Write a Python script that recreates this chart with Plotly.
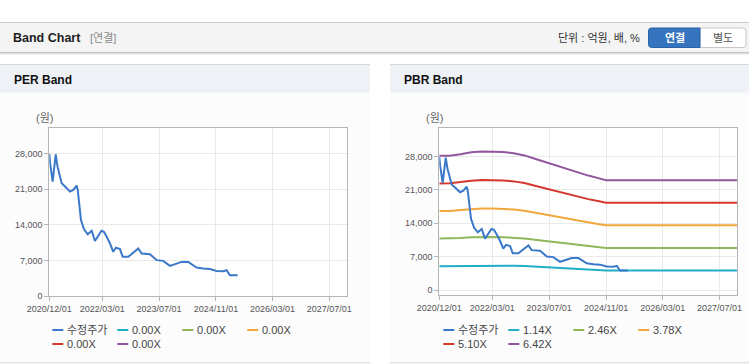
import plotly.graph_objects as go

W, H = 749, 364

# ---------------- data ----------------
price_name = "수정주가"
price_dates = ["2020-12-01", "2020-12-08", "2020-12-30", "2021-01-25", "2021-02-09", "2021-03-17",
               "2021-04-15", "2021-05-28", "2021-06-25", "2021-07-24", "2021-08-02", "2021-08-15",
               "2021-08-30", "2021-09-25", "2021-10-27", "2021-11-30", "2021-12-28", "2022-02-22",
               "2022-03-15", "2022-04-08", "2022-05-06", "2022-06-03", "2022-06-26", "2022-07-31",
               "2022-08-23", "2022-10-10", "2023-01-04", "2023-02-02", "2023-04-14", "2023-06-11",
               "2023-08-06", "2023-10-03", "2023-11-29", "2024-01-11", "2024-03-08", "2024-05-19",
               "2024-07-15", "2024-09-10", "2024-11-07", "2025-01-02", "2025-01-31", "2025-03-01",
               "2025-05-06"]
price_values = [27900, 26100, 22480, 27800, 25500, 22160,
                21500, 20510, 20840, 21690, 20840, 18220,
                14930, 13100, 12110, 12820, 10790, 12820,
                12620, 11630, 10330, 8680, 9470, 9210,
                7690, 7690, 9350, 8360, 8220, 7040,
                6900, 5920, 6390, 6700, 6700, 5600,
                5400, 5320, 4930, 4870, 5070, 4080,
                4080]

per_band_names = ["0.00X", "0.00X", "0.00X", "0.00X", "0.00X"]

pbr_band_names = ["1.14X", "2.46X", "3.78X", "5.10X", "6.42X"]
band_dates = ["2020-12-01", "2021-03-01", "2021-06-01", "2021-09-01", "2021-12-01", "2022-03-01",
              "2022-06-01", "2022-09-01", "2022-12-01", "2023-03-01", "2023-06-01", "2023-09-01",
              "2023-12-01", "2024-03-01", "2024-06-01", "2024-09-01", "2024-11-01", "2027-12-01"]
band_114 = [4999, 5005, 5062, 5130, 5159, 5159, 5141, 5096, 5016, 4891, 4760, 4628,
            4503, 4378, 4264, 4161, 4093, 4093]
band_246 = [10787, 10799, 10922, 11070, 11132, 11132, 11095, 10996, 10824, 10553, 10271, 9988,
            9717, 9446, 9200, 8979, 8831, 8831]
band_378 = [16575, 16594, 16783, 17010, 17105, 17105, 17048, 16897, 16632, 16216, 15782, 15347,
            14931, 14515, 14137, 13797, 13570, 13570]
band_510 = [22364, 22389, 22644, 22950, 23078, 23078, 23001, 22797, 22440, 21879, 21293, 20706,
            20145, 19584, 19074, 18615, 18309, 18309]
band_642 = [28152, 28184, 28505, 28890, 29051, 29051, 28954, 28697, 28248, 27542, 26804, 26065,
            25359, 24653, 24011, 23433, 23048, 23048]
pbr_bands = [band_114, band_246, band_378, band_510, band_642]

x_tick_dates = ["2020-12-01", "2022-03-01", "2023-07-01", "2024-11-01", "2026-03-01", "2027-07-01"]
y_ticks = [0, 7000, 14000, 21000, 28000]

# ---------------- style ----------------
price_color = "#3a78c9"
band_colors = ["#22aec6", "#8fb75a", "#f0a83c", "#d5372c", "#91569d"]
FONT = "Liberation Sans, Arial, Noto Sans CJK KR, sans-serif"
KFONT = "Liberation Sans, Noto Sans CJK KR, sans-serif"

def X(px):
    return px / W

def Y(py):
    return 1 - py / H

# plot areas in pixels
L_left, L_right, L_top, L_bot = 49.3, 347.0, 128.0, 296.0
R_left, R_right, R_top, R_bot = 439.3, 737.3, 128.0, 295.0

fig = go.Figure()

fig.add_trace(go.Scatter(x=price_dates, y=price_values, mode="lines", name=price_name,
                         line=dict(color=price_color, width=2), xaxis="x", yaxis="y",
                         showlegend=False, hoverinfo="skip"))
for name, vals, col in zip(pbr_band_names, pbr_bands, band_colors):
    fig.add_trace(go.Scatter(x=band_dates, y=vals, mode="lines", name=name,
                             line=dict(color=col, width=2), xaxis="x2", yaxis="y2",
                             showlegend=False, hoverinfo="skip"))
fig.add_trace(go.Scatter(x=price_dates, y=price_values, mode="lines", name=price_name,
                         line=dict(color=price_color, width=2), xaxis="x2", yaxis="y2",
                         showlegend=False, hoverinfo="skip"))

axis_common = dict(showline=True, mirror=True, linecolor="#b5b5b5", linewidth=1,
                   showgrid=True, gridcolor="#e9e9e9", gridwidth=1, zeroline=False,
                   ticks="outside", ticklen=4, tickcolor="#b5b5b5", automargin=False,
                   tickfont=dict(family=FONT, size=9, color="#555555"), fixedrange=True)

xr = ["2020-12-01", "2027-12-01"]
fig.update_layout(
    width=W, height=H, margin=dict(l=0, r=0, t=0, b=0, pad=0, autoexpand=False),
    paper_bgcolor="white", plot_bgcolor="white", showlegend=False,
    xaxis=dict(domain=[X(L_left), X(L_right)], anchor="y", type="date", range=xr,
               tickvals=x_tick_dates, tickformat="%Y/%m/%d", **axis_common),
    yaxis=dict(domain=[Y(L_bot), Y(L_top)], anchor="x", range=[0, 33000],
               tickvals=y_ticks, tickformat=",", **axis_common),
    xaxis2=dict(domain=[X(R_left), X(R_right)], anchor="y2", type="date", range=xr,
                tickvals=x_tick_dates, tickformat="%Y/%m/%d", **axis_common),
    yaxis2=dict(domain=[Y(R_bot), Y(R_top)], anchor="x2", range=[-1050, 34000],
                tickvals=y_ticks, tickformat=",", **axis_common),
)

shapes = []
ann = []

def rect(x0, y0, x1, y1, fill, line=None, lw=0, layer="below"):
    shapes.append(dict(type="rect", xref="paper", yref="paper",
                       x0=X(x0), x1=X(x1), y0=Y(y1), y1=Y(y0), fillcolor=fill,
                       line=dict(color=line or fill, width=lw), layer=layer))

def hline(x0, x1, y, color, width=1, layer="below"):
    shapes.append(dict(type="line", xref="paper", yref="paper",
                       x0=X(x0), x1=X(x1), y0=Y(y), y1=Y(y),
                       line=dict(color=color, width=width), layer=layer))

def text(x, y, s, size=11, color="#333", xanchor="left", family=KFONT, bold=False):
    ann.append(dict(xref="paper", yref="paper", x=X(x), y=Y(y), text=s, showarrow=False,
                    xanchor=xanchor, yanchor="middle",
                    font=dict(family=family, size=size, color=color,
                              weight="bold" if bold else "normal")))

# top header bar
rect(0, 22.5, W, 52.5, "#f4f4f4")
hline(0, W, 22.5, "#c9c9c9")
hline(0, W, 52.5, "#c4c4c4")
hline(0, W, 53.5, "#e2e2e2")
hline(0, W, 54.5, "#f0f0f0")
text(10.5, 38, "Band Chart", size=12.5, color="#1e1e1e", family=FONT, bold=True)
text(87.5, 38.5, "[연결]", size=11, color="#8a8a8a")
text(642, 38.5, "단위 : 억원, 배, %", size=11, color="#333333", xanchor="right")

def rounded_path(x0, y0, x1, y1, rl, rr):
    def p(x, y):
        return f"{X(x):.5f},{Y(y):.5f}"
    d = f"M {p(x0 + rl, y0)} L {p(x1 - rr, y0)} "
    d += f"Q {p(x1, y0)} {p(x1, y0 + rr)} " if rr else f"L {p(x1, y0)} "
    d += f"L {p(x1, y1 - rr)} "
    d += f"Q {p(x1, y1)} {p(x1 - rr, y1)} " if rr else f"L {p(x1, y1)} "
    d += f"L {p(x0 + rl, y1)} "
    d += f"Q {p(x0, y1)} {p(x0, y1 - rl)} " if rl else f"L {p(x0, y1)} "
    d += f"L {p(x0, y0 + rl)} "
    d += f"Q {p(x0, y0)} {p(x0 + rl, y0)} Z" if rl else f"L {p(x0, y0)} Z"
    return d

shapes.append(dict(type="path", xref="paper", yref="paper",
                   path=rounded_path(700, 28, 746, 47.5, 0, 3),
                   fillcolor="#ffffff", line=dict(color="#c6c6c6", width=1), layer="above"))
shapes.append(dict(type="path", xref="paper", yref="paper",
                   path=rounded_path(648.5, 28, 700, 47.5, 3, 0),
                   fillcolor="#3574bf", line=dict(color="#2b62a6", width=1), layer="above"))
text(674.5, 38, "연결", size=11, color="#ffffff", xanchor="center", bold=True)
text(723, 38, "별도", size=11, color="#555555", xanchor="center")

for (px0, px1, title, ylab_x, pl, pr, pt, pb) in [
        (0, 370, "PER Band", 44, L_left, L_right, L_top, L_bot),
        (390, W, "PBR Band", 434.5, R_left, R_right, R_top, R_bot)]:
    rect(px0, 92.5, px1, 362.5, "#fcfcfd")
    rect(px0, 64.5, px1, 92.5, "#eef2f7")
    hline(px0, px1, 64.5, "#d8d8d8")
    hline(px0, px1, 362.8, "#d6d6d6")
    rect(pl, pt, pr, pb, "#ffffff")
    text(px0 + 11.5, 80, title, size=12, color="#111111", family=FONT, bold=True)
    text(ylab_x, 118.5, "(원)", size=11, color="#666666", xanchor="center")

def legend(left_px, names, colors):
    for i, (nm, col) in enumerate(zip(names, colors)):
        col_i, row_i = i % 4, i // 4
        x0 = left_px + col_i * 65
        y0 = 330 + row_i * 14
        shapes.append(dict(type="line", xref="paper", yref="paper",
                           x0=X(x0), x1=X(x0 + 11), y0=Y(y0), y1=Y(y0),
                           line=dict(color=col, width=2), layer="above"))
        text(x0 + 13, y0, nm, size=11, color="#444444")

legend(L_left + 3, [price_name] + per_band_names, [price_color] + band_colors)
legend(R_left + 4, [price_name] + pbr_band_names, [price_color] + band_colors)

fig.update_layout(shapes=shapes, annotations=ann)
fig.write_html("out.html", config={"displayModeBar": False},
               post_script="document.body.style.margin='0';document.body.style.overflow='hidden';")
